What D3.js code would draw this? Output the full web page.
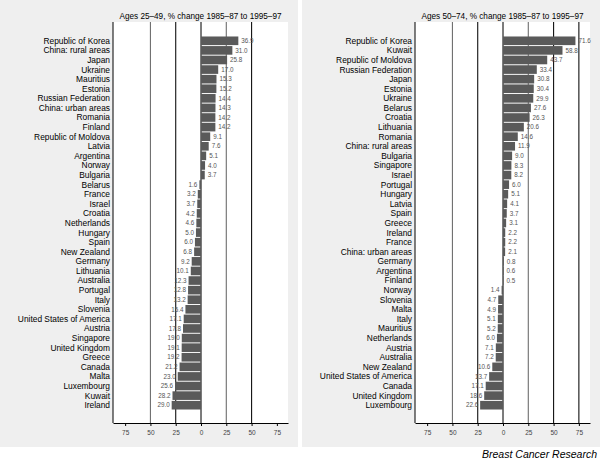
<!DOCTYPE html>
<html><head><meta charset="utf-8">
<script src="https://cdn.jsdelivr.net/npm/d3@7"></script>
<style>body{margin:0;background:#fff}svg{display:block}text{font-family:"Liberation Sans",Arial,sans-serif}</style>
</head><body>
<svg id="c" width="600" height="461"></svg>
<script>
const leftTitle = "Ages 25–49, % change 1985–87 to 1995–97";
const leftCountries = ["Republic of Korea","China: rural areas","Japan","Ukraine","Mauritius","Estonia","Russian Federation","China: urban areas","Romania","Finland","Republic of Moldova","Latvia","Argentina","Norway","Bulgaria","Belarus","France","Israel","Croatia","Netherlands","Hungary","Spain","New Zealand","Germany","Lithuania","Australia","Portugal","Italy","Slovenia","United States of America","Austria","Singapore","United Kingdom","Greece","Canada","Malta","Luxembourg","Kuwait","Ireland"];
const leftValues = [36.9,31.0,25.8,17.0,15.3,15.2,14.4,14.3,14.2,14.2,9.1,7.6,5.1,4.0,3.7,-1.6,-3.2,-3.7,-4.2,-4.6,-5.0,-6.0,-6.8,-9.2,-10.1,-12.3,-12.8,-13.2,-15.4,-17.1,-17.8,-19.0,-19.1,-19.2,-21.2,-23.0,-25.6,-28.2,-29.0];

const rightTitle = "Ages 50–74, % change 1985–87 to 1995–97";
const rightCountries = ["Republic of Korea","Kuwait","Republic of Moldova","Russian Federation","Japan","Estonia","Ukraine","Belarus","Croatia","Lithuania","Romania","China: rural areas","Bulgaria","Singapore","Israel","Portugal","Hungary","Latvia","Spain","Greece","Ireland","France","China: urban areas","Germany","Argentina","Finland","Norway","Slovenia","Malta","Italy","Mauritius","Netherlands","Austria","Australia","New Zealand","United States of America","Canada","United Kingdom","Luxembourg"];
const rightValues = [71.6,58.8,43.7,33.4,30.8,30.4,29.9,27.6,26.3,20.6,14.6,11.9,9.0,8.3,8.2,6.0,5.1,4.1,3.7,3.1,2.2,2.2,2.1,0.8,0.6,0.5,-1.4,-4.7,-4.9,-5.1,-5.2,-6.0,-7.1,-7.2,-10.6,-13.7,-17.1,-18.6,-22.6];

const tickValues = [-75,-50,-25,0,25,50,75];
const tickLabels = ["75","50","25","0","25","50","75"];
const leftRefLines = [-50,-25,0,25,50];
const rightRefLines = [-50,-25,0,25,50,75];
const grayRefLines = [-50,25];
const credit = "Breast Cancer Research";

const svg = d3.select("#c");

function panel(ox, title, cats, vals, refs){
  const g = svg.append("g").attr("transform", `translate(${ox},0)`);
  g.append("rect").attr("x",0).attr("y",0).attr("width",298).attr("height",447).attr("fill","#efefef");
  const plotL = 113, plotR = 288, plotT = 22, plotB = 423;
  g.append("rect").attr("x",plotL).attr("y",plotT).attr("width",plotR-plotL).attr("height",plotB-plotT).attr("fill","#fff");
  const x = d3.scaleLinear().domain([-87,86]).range([plotL,plotR]);
  const y = d3.scaleBand().domain(cats).range([36,410]).paddingInner(0.1).paddingOuter(0.05);

  g.selectAll("line.ref").data(refs).join("line").attr("class","ref")
    .attr("x1",d=>x(d)).attr("x2",d=>x(d)).attr("y1",plotT).attr("y2",plotB)
    .attr("stroke",d=>grayRefLines.includes(d)?"#6e6e6e":"#111").attr("stroke-width",1.1);

  const data = cats.map((c,i)=>({c, v:vals[i]}));
  g.selectAll("rect.bar").data(data).join("rect").attr("class","bar")
    .attr("x",d=>x(Math.min(0,d.v))).attr("width",d=>Math.abs(x(d.v)-x(0)))
    .attr("y",d=>y(d.c)).attr("height",y.bandwidth()).attr("fill","#5a5a5a");

  g.selectAll("text.val").data(data).join("text").attr("class","val")
    .attr("x",d=>d.v>=0 ? x(d.v)+3 : x(d.v)-2)
    .attr("y",d=>y(d.c)+y.bandwidth()/2).attr("dy","0.35em")
    .attr("text-anchor",d=>d.v>=0?"start":"end")
    .attr("font-size",6.3).attr("fill","#555")
    .text(d=>Math.abs(d.v).toFixed(1));

  g.selectAll("text.cat").data(cats).join("text").attr("class","cat")
    .attr("x",110).attr("y",d=>y(d)+y.bandwidth()/2).attr("dy","0.35em")
    .attr("text-anchor","end").attr("font-size",8.4).attr("fill","#000").text(d=>d);

  g.append("line").attr("x1",plotL).attr("x2",plotL).attr("y1",plotT).attr("y2",plotB).attr("stroke","#000");

  const ax = g.append("g").attr("transform",`translate(0,${plotB})`)
    .call(d3.axisBottom(x).tickValues(tickValues).tickSize(3).tickSizeOuter(0)
      .tickFormat((d,i)=>tickLabels[i]));
  ax.select(".domain").attr("stroke","#000");
  ax.selectAll(".tick line").attr("stroke","#000");
  ax.selectAll(".tick text").attr("font-size",6.5).attr("fill","#444").attr("dy","0.9em")
    .attr("font-family","Liberation Sans, Arial, sans-serif");

  g.append("text").attr("x",(plotL+plotR)/2).attr("y",19).attr("text-anchor","middle")
    .attr("font-size",8.2).attr("fill","#000").text(title);
}

panel(0, leftTitle, leftCountries, leftValues, leftRefLines);
panel(302, rightTitle, rightCountries, rightValues, rightRefLines);

svg.append("text").attr("x",597).attr("y",458).attr("text-anchor","end")
  .attr("font-size",10.5).attr("font-style","italic").attr("fill","#000").text(credit);
</script>
</body></html>
